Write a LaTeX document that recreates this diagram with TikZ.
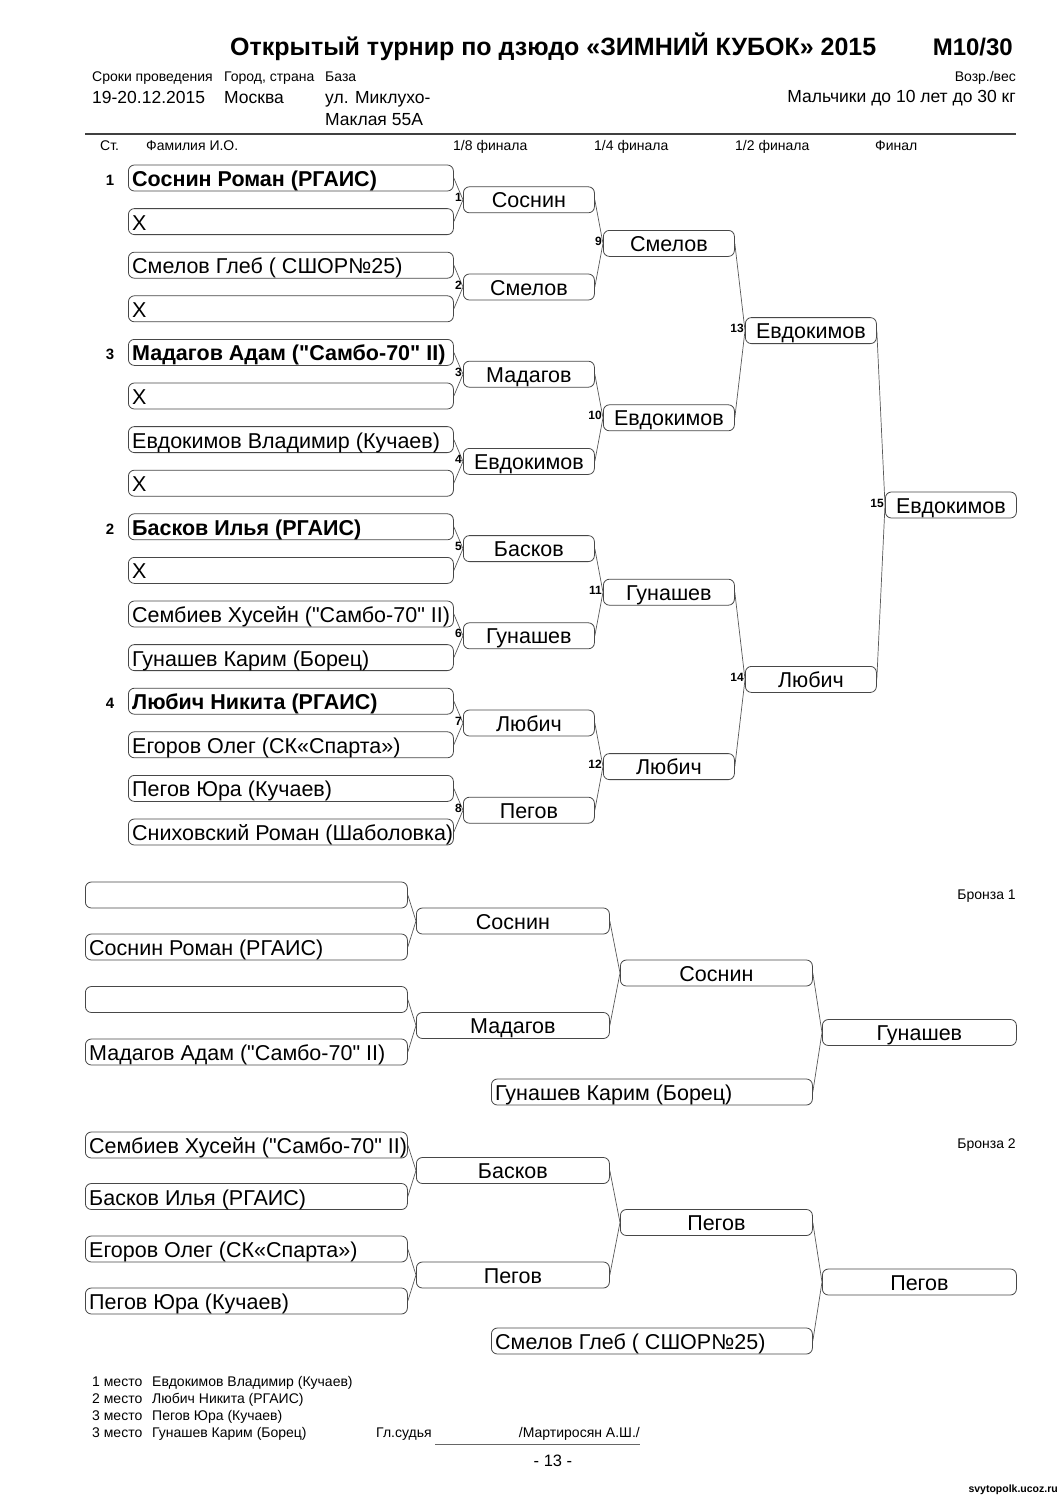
\documentclass[tikz,border=0pt]{standalone}
\usepackage{fontspec}
\setmainfont{Liberation Sans}
\newfontfamily\qfont{Liberation Sans}
\newcommand\nmf{\fontsize{21.5}{24}\selectfont}
\newcommand\smf{\fontsize{14}{16}\selectfont}
\newcommand\mdf{\fontsize{17.5}{20}\selectfont}
\newcommand\qq{{\qfont"}}
\begin{document}
\begin{tikzpicture}[x=1pt,y=-1pt,
  bx/.style={draw=black!72, line width=0.8pt, rounded corners=6pt, inner sep=0pt, minimum height=26pt},
  c0/.style={bx, minimum width=325pt, anchor=west},
  cw/.style={bx, minimum width=131pt, anchor=west, font=\nmf, text height=16pt, text depth=0pt},
  ba/.style={bx, minimum width=322pt, anchor=west},
  bw/.style={bx, minimum width=193pt, anchor=west, font=\nmf, text height=16pt, text depth=0pt},
  nt/.style={anchor=base west, font=\nmf, inner sep=0pt},
  ln/.style={draw=black!65, line width=0.7pt},
  mn/.style={font=\fontsize{12}{13}\selectfont\bfseries, anchor=east, inner sep=1pt},
  seed/.style={font=\fontsize{15}{17}\selectfont\bfseries, inner sep=0pt, anchor=base},
  sm/.style={font=\smf, inner sep=0pt},
]
\useasboundingbox (0,0) rectangle (1061,1500);
\fill[white] (0,0) rectangle (1061,1500);

% Title and header
\node[anchor=base west, inner sep=0pt, font=\fontsize{25}{27}\selectfont\bfseries] (title) at (230,55.5) {Открытый турнир по дзюдо «ЗИМНИЙ КУБОК» 2015};
\node[anchor=base east, inner sep=0pt, font=\fontsize{24}{26}\selectfont\bfseries] (code) at (1013,55.5) {М10/30};
\node[sm, anchor=base west] (h1) at (92,81) {Сроки проведения};
\node[sm, anchor=base west] (h2) at (224,81) {Город, страна};
\node[sm, anchor=base west] (h3) at (325,81) {База};
\node[sm, anchor=base east] (h4) at (1016,81) {Возр./вес};
\node[anchor=base west, inner sep=0pt, font=\mdf] (v1) at (92,103) {19-20.12.2015};
\node[anchor=base west, inner sep=0pt, font=\mdf] (v2) at (224,103) {Москва};
\node[anchor=base west, inner sep=0pt, font=\mdf] (v3) at (325,103) {ул. Миклухо-};
\node[anchor=base west, inner sep=0pt, font=\mdf] (v3b) at (325,125) {Маклая 55А};
\node[anchor=base east, inner sep=0pt, font=\mdf] (v4) at (1016,102) {Мальчики до 10 лет до 30 кг};
\coordinate (hl1) at (85,134); \coordinate (hl2) at (1016,134);
\draw[draw=black!75, line width=1.4pt] (hl1) -- (hl2);
\node[sm, anchor=base west] (k1) at (100,150) {Ст.};
\node[sm, anchor=base west] (k2) at (146,150) {Фамилия И.О.};
\node[sm, anchor=base west] (k3) at (453,150) {1/8 финала};
\node[sm, anchor=base west] (k4) at (594,150) {1/4 финала};
\node[sm, anchor=base west] (k5) at (735,150) {1/2 финала};
\node[sm, anchor=base west] (k6) at (875,150) {Финал};

% First round
\node[c0] (a1) at (128,178) {};   \node[nt] (ta1) at ([xshift=4pt,yshift=-8.5pt]a1.west) {\bfseries Соснин Роман (РГАИС)};
\node[c0] (a2) at (128,221.6) {}; \node[nt] (ta2) at ([xshift=4pt,yshift=-8.5pt]a2.west) {Х};
\node[c0] (a3) at (128,265.2) {}; \node[nt] (ta3) at ([xshift=4pt,yshift=-8.5pt]a3.west) {Смелов Глеб ( СШОР№25)};
\node[c0] (a4) at (128,308.8) {}; \node[nt] (ta4) at ([xshift=4pt,yshift=-8.5pt]a4.west) {Х};
\node[c0] (a5) at (128,352.4) {}; \node[nt] (ta5) at ([xshift=4pt,yshift=-8.5pt]a5.west) {\bfseries Мадагов Адам (\qq Самбо-70\qq{} II)};
\node[c0] (a6) at (128,396) {};   \node[nt] (ta6) at ([xshift=4pt,yshift=-8.5pt]a6.west) {Х};
\node[c0] (a7) at (128,439.6) {}; \node[nt] (ta7) at ([xshift=4pt,yshift=-8.5pt]a7.west) {Евдокимов Владимир (Кучаев)};
\node[c0] (a8) at (128,483.2) {}; \node[nt] (ta8) at ([xshift=4pt,yshift=-8.5pt]a8.west) {Х};
\node[c0] (a9) at (128,526.8) {}; \node[nt] (ta9) at ([xshift=4pt,yshift=-8.5pt]a9.west) {\bfseries Басков Илья (РГАИС)};
\node[c0] (a10) at (128,570.4) {}; \node[nt] (ta10) at ([xshift=4pt,yshift=-8.5pt]a10.west) {Х};
\node[c0] (a11) at (128,614) {};   \node[nt] (ta11) at ([xshift=4pt,yshift=-8.5pt]a11.west) {Сембиев Хусейн (\qq Самбо-70\qq{} II)};
\node[c0] (a12) at (128,657.6) {}; \node[nt] (ta12) at ([xshift=4pt,yshift=-8.5pt]a12.west) {Гунашев Карим (Борец)};
\node[c0] (a13) at (128,701.2) {}; \node[nt] (ta13) at ([xshift=4pt,yshift=-8.5pt]a13.west) {\bfseries Любич Никита (РГАИС)};
\node[c0] (a14) at (128,744.8) {}; \node[nt] (ta14) at ([xshift=4pt,yshift=-8.5pt]a14.west) {Егоров Олег (СК«Спарта»)};
\node[c0] (a15) at (128,788.4) {}; \node[nt] (ta15) at ([xshift=4pt,yshift=-8.5pt]a15.west) {Пегов Юра (Кучаев)};
\node[c0] (a16) at (128,832) {};   \node[nt] (ta16) at ([xshift=4pt,yshift=-8.5pt]a16.west) {Сниховский Роман (Шаболовка)};

\node[seed] (s1) at (110,185.5) {1};
\node[seed] (s3) at (110,359.5) {3};
\node[seed] (s2) at (110,534) {2};
\node[seed] (s4) at (110,708.5) {4};

% 1/8 winners
\node[cw] (b1) at (463,199.8) {Соснин};
\node[cw] (b2) at (463,287) {Смелов};
\node[cw] (b3) at (463,374.2) {Мадагов};
\node[cw] (b4) at (463,461.4) {Евдокимов};
\node[cw] (b5) at (463,548.6) {Басков};
\node[cw] (b6) at (463,635.8) {Гунашев};
\node[cw] (b7) at (463,723) {Любич};
\node[cw] (b8) at (463,810.2) {Пегов};
% 1/4 winners
\node[cw] (c1) at (603,243.4) {Смелов};
\node[cw] (c2) at (603,417.8) {Евдокимов};
\node[cw] (c3) at (603,592.2) {Гунашев};
\node[cw] (c4) at (603,766.6) {Любич};
% 1/2 winners
\node[cw] (d1) at (745,330.6) {Евдокимов};
\node[cw] (d2) at (745,679.4) {Любич};
% final
\node[cw] (e1) at (885,505) {Евдокимов};

% connectors
\foreach \w/\p/\q in {b1/a1/a2, b2/a3/a4, b3/a5/a6, b4/a7/a8, b5/a9/a10, b6/a11/a12, b7/a13/a14, b8/a15/a16,
  c1/b1/b2, c2/b3/b4, c3/b5/b6, c4/b7/b8, d1/c1/c2, d2/c3/c4, e1/d1/d2}
  { \draw[ln] (\p.east) -- (\w.west) -- (\q.east); }

% match numbers
\foreach \w/\n in {b1/1, b2/2, b3/3, b4/4, b5/5, b6/6, b7/7, b8/8, c1/9, c2/10, c3/11, c4/12, d1/13, d2/14, e1/15}
  { \node[mn] (m\n) at ([yshift=2pt]\w.west) {\n}; }

% Bronze 1
\node[sm, anchor=base east] (br1) at (1016,899) {Бронза 1};
\node[ba] (p1) at (85,895) {};
\node[ba] (p2) at (85,947) {};  \node[nt] (tp2) at ([xshift=4pt,yshift=-8.5pt]p2.west) {Соснин Роман (РГАИС)};
\node[ba] (p3) at (85,999.5) {};
\node[ba] (p4) at (85,1052) {}; \node[nt] (tp4) at ([xshift=4pt,yshift=-8.5pt]p4.west) {Мадагов Адам (\qq Самбо-70\qq{} II)};
\node[bw] (q1) at (416,921) {Соснин};
\node[bw] (q2) at (416,1025.5) {Мадагов};
\node[bw, minimum width=192pt] (r1) at (620,973) {Соснин};
\node[ba, minimum width=321pt] (r2) at (491,1092) {}; \node[nt] (tr2) at ([xshift=4pt,yshift=-8.5pt]r2.west) {Гунашев Карим (Борец)};
\node[bw, minimum width=194pt] (u1) at (822,1032.5) {Гунашев};
\draw[ln] (p1.east) -- (q1.west) -- (p2.east);
\draw[ln] (p3.east) -- (q2.west) -- (p4.east);
\draw[ln] (q1.east) -- (r1.west) -- (q2.east);
\draw[ln] (r1.east) -- (u1.west) -- (r2.east);

% Bronze 2
\node[sm, anchor=base east] (br2) at (1016,1148) {Бронза 2};
\node[ba] (g1) at (85,1145) {};  \node[nt] (tg1) at ([xshift=4pt,yshift=-8.5pt]g1.west) {Сембиев Хусейн (\qq Самбо-70\qq{} II)};
\node[ba] (g2) at (85,1196.5) {}; \node[nt] (tg2) at ([xshift=4pt,yshift=-8.5pt]g2.west) {Басков Илья (РГАИС)};
\node[ba] (g3) at (85,1249) {};  \node[nt] (tg3) at ([xshift=4pt,yshift=-8.5pt]g3.west) {Егоров Олег (СК«Спарта»)};
\node[ba] (g4) at (85,1301) {};  \node[nt] (tg4) at ([xshift=4pt,yshift=-8.5pt]g4.west) {Пегов Юра (Кучаев)};
\node[bw] (h1b) at (416,1170.5) {Басков};
\node[bw] (h2b) at (416,1275) {Пегов};
\node[bw, minimum width=192pt] (j1) at (620,1222.5) {Пегов};
\node[ba, minimum width=321pt] (j2) at (491,1341) {}; \node[nt] (tj2) at ([xshift=4pt,yshift=-8.5pt]j2.west) {Смелов Глеб ( СШОР№25)};
\node[bw, minimum width=194pt] (k1b) at (822,1282) {Пегов};
\draw[ln] (g1.east) -- (h1b.west) -- (g2.east);
\draw[ln] (g3.east) -- (h2b.west) -- (g4.east);
\draw[ln] (h1b.east) -- (j1.west) -- (h2b.east);
\draw[ln] (j1.east) -- (k1b.west) -- (j2.east);

% Footer
\node[sm, anchor=base west] (f1) at (92,1386.5) {1 место};
\node[sm, anchor=base west] (f1n) at (152,1386.5) {Евдокимов Владимир (Кучаев)};
\node[sm, anchor=base west] (f2) at (92,1403.5) {2 место};
\node[sm, anchor=base west] (f2n) at (152,1403.5) {Любич Никита (РГАИС)};
\node[sm, anchor=base west] (f3) at (92,1420.5) {3 место};
\node[sm, anchor=base west] (f3n) at (152,1420.5) {Пегов Юра (Кучаев)};
\node[sm, anchor=base west] (f4) at (92,1437.5) {3 место};
\node[sm, anchor=base west] (f4n) at (152,1437.5) {Гунашев Карим (Борец)};
\node[sm, anchor=base west] (jd) at (376,1437.5) {Гл.судья};
\node[sm, anchor=base east] (jn) at (640,1437.5) {/Мартиросян А.Ш./};
\coordinate (sl1) at (435,1444.5); \coordinate (sl2) at (640,1444.5);
\draw[draw=black!60, line width=0.8pt] (sl1) -- (sl2);
\node[inner sep=0pt, anchor=base, font=\fontsize{16.5}{18}\selectfont] (pg) at (553,1466) {- 13 -};
\node[inner sep=0pt, font=\fontsize{10.5}{12}\selectfont\bfseries, anchor=east] (wm) at (1058,1490) {svytopolk.ucoz.ru};
\end{tikzpicture}
\end{document}
